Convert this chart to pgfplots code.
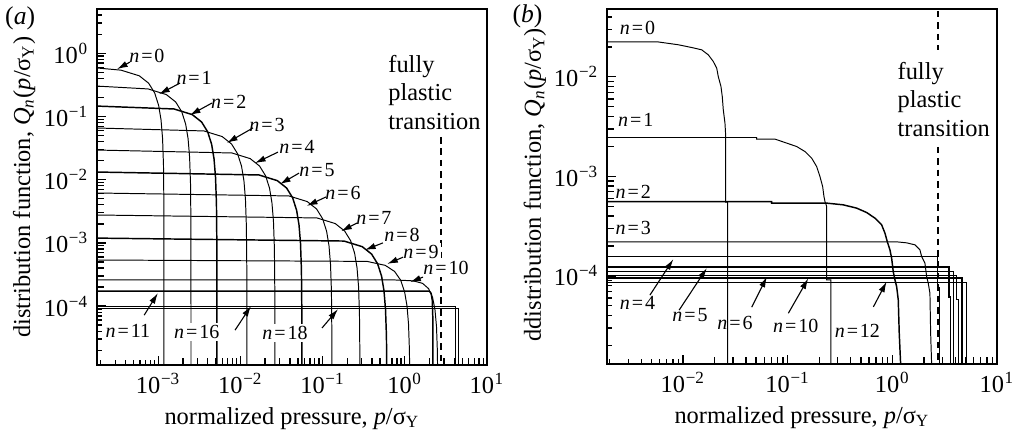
\documentclass[border=0pt]{standalone}
\usepackage{fontspec}
\setmainfont{Liberation Serif}
\usepackage{pgfplots}
\pgfplotsset{compat=1.18}
\usetikzlibrary{arrows.meta}
\newcommand{\nv}[1]{\textit{n}\kern0.8pt=\kern0.8pt#1}
\newcommand{\tn}[1]{10\textsuperscript{\kern0.3pt#1}}
\tikzset{
  nlab/.style={font=\fontsize{8.2}{9}\selectfont, inner sep=0.8pt},
  arr/.style={-{Latex[length=4.4pt,width=2.6pt]}, line width=0.45pt},
  fpt/.style={anchor=north west, align=left, inner sep=0pt, font=\fontsize{10}{11.6}\selectfont},
}
\begin{document}
\begin{tikzpicture}[x=1pt,y=1pt]
% ---------------- panel (a)
\begin{axis}[
  xmode=log, ymode=log,
  scale only axis,
  width=159.9pt, height=145.96pt,
  at={(39.77pt,28.29pt)}, anchor=south west,
  axis line style={line width=0.7pt},
  tick align=inside,
  xtick pos=left, ytick pos=left,
  major tick length=3.8pt,
  every tick/.append style={line width=0.55pt, black},
  clip mode=individual,
  tick label style={font=\fontsize{10}{12}\selectfont},
  label style={font=\fontsize{10}{12}\selectfont},
  xlabel style={at={(axis description cs:0.5,-0.15)},anchor=center},
  ylabel style={at={(axis description cs:-0.187,0.5)},anchor=center},
  xmin=1.8e-4, xmax=10, ymin=1.17e-5, ymax=5,
  xtick={1e-3,1e-2,1e-1,1,10},
  xticklabels={\tn{−3},\tn{−2},\tn{−1},\tn{0},\tn{1}},
  minor xtick={},
  extra x ticks={2e-4,3e-4,4e-4,5e-4,6e-4,7e-4,8e-4,9e-4,2e-3,3e-3,4e-3,5e-3,6e-3,7e-3,8e-3,9e-3,0.02,0.03,0.04,0.05,0.06,0.07,0.08,0.09,0.2,0.3,0.4,0.5,0.6,0.7,0.8,0.9,2,3,4,5,6,7,8,9},
  extra x tick labels={},
  extra x tick style={major tick length=2.2pt},
  ytick={1e-4,1e-3,1e-2,1e-1,1},
  yticklabels={\tn{−4},\tn{−3},\tn{−2},\tn{−1},\tn{0}},
  minor ytick={},
  extra y ticks={2e-5,3e-5,4e-5,5e-5,6e-5,7e-5,8e-5,9e-5,2e-4,3e-4,4e-4,5e-4,6e-4,7e-4,8e-4,9e-4,2e-3,3e-3,4e-3,5e-3,6e-3,7e-3,8e-3,9e-3,0.02,0.03,0.04,0.05,0.06,0.07,0.08,0.09,0.2,0.3,0.4,0.5,0.6,0.7,0.8,0.9,2,3,4},
  extra y tick labels={},
  extra y tick style={major tick length=2.2pt},
  xlabel={normalized pressure, \textit{p}/σ\textsubscript{Y}},
  ylabel={distribution function, \textit{Q}\textsubscript{\textit{n}}(\textit{p}/σ\textsubscript{Y})},
  cycle list={{black,solid,line width=0.6pt}},
]
\addplot coordinates {(1.8e-4,0.584) (3.531e-4,0.5391) (5.885e-4,0.4392) (7.651e-4,0.3353) (9.063e-4,0.2348) (1.0122e-3,0.1495) (1.0828e-3,0.0879) (1.130e-3,0.04476) (1.1593e-3,0.01698) (1.1735e-3,3.414e-3) (1.177e-3,1e-7)};
\addplot coordinates {(1.8e-4,0.302) (7.53e-4,0.2722) (1.255e-3,0.2218) (1.6315e-3,0.1693) (1.9327e-3,0.1186) (2.1586e-3,0.0755) (2.3092e-3,0.04439) (2.4096e-3,0.0226) (2.4724e-3,8.575e-3) (2.5025e-3,1.724e-3) (2.51e-3,1e-7)};
\addplot coordinates {(1.8e-4,0.1458) (1.557e-3,0.1312) (2.595e-3,0.1069) (3.3735e-3,0.0816) (3.9963e-3,0.05714) (4.4634e-3,0.03638) (4.7748e-3,0.02139) (4.9824e-3,0.01089) (5.1122e-3,4.132e-3) (5.1744e-3,8.31e-4) (5.19e-3,1e-7)};
\addplot coordinates {(1.8e-4,0.0656) (3.6e-3,0.05894) (6.0e-3,0.04802) (7.8e-3,0.03666) (9.24e-3,0.02568) (0.01032,0.01635) (0.01104,9.61e-3) (0.01152,4.894e-3) (0.01182,1.856e-3) (0.011964,3.733e-4) (0.012,1e-7)};
\addplot coordinates {(1.8e-4,0.0294) (7.89e-3,0.02642) (0.01315,0.02152) (0.017095,0.01643) (0.020251,0.011507) (0.022618,7.326e-3) (0.024196,4.307e-3) (0.025248,2.193e-3) (0.025906,8.32e-4) (0.026221,1.673e-4) (0.0263,1e-7)};
\addplot coordinates {(1.8e-4,0.0132) (0.01683,0.01186) (0.02805,9.662e-3) (0.036465,7.377e-3) (0.043197,5.166e-3) (0.048246,3.289e-3) (0.051612,1.934e-3) (0.053856,9.85e-4) (0.055259,3.736e-4) (0.055932,7.51e-5) (0.0561,1e-7)};
\addplot coordinates {(1.8e-4,6.15e-3) (0.039,5.526e-3) (0.065,4.502e-3) (0.0845,3.437e-3) (0.1001,2.407e-3) (0.1118,1.533e-3) (0.1196,9.01e-4) (0.1248,4.588e-4) (0.12805,1.74e-4) (0.12961,3.5e-5) (0.130,1e-7)};
\addplot coordinates {(1.8e-4,2.76e-3) (0.0855,2.48e-3) (0.1425,2.02e-3) (0.18525,1.5426e-3) (0.21945,1.0803e-3) (0.2451,6.878e-4) (0.2622,4.043e-4) (0.2736,2.059e-4) (0.280725,7.81e-5) (0.284145,1.57e-5) (0.285,1e-7)};
\addplot coordinates {(1.8e-4,1.19e-3) (0.1821,1.0692e-3) (0.3035,8.711e-4) (0.39455,6.651e-4) (0.46739,4.658e-4) (0.52202,2.965e-4) (0.55844,1.743e-4) (0.58272,8.88e-5) (0.597895,3.368e-5) (0.605179,6.77e-6) (0.607,1e-7)};
\addplot coordinates {(1.8e-4,5.36e-4) (0.3468,5.097e-4) (0.578,4.411e-4) (0.7514,3.532e-4) (0.89012,2.573e-4) (0.99416,1.683e-4) (1.06352,1.008e-4) (1.10976,5.2e-5) (1.13866,1.983e-5) (1.152532,4.02e-6) (1.156,1e-7)};
\addplot coordinates {(1.8e-4,2.59e-4) (0.759,2.59e-4) (1.265,2.51e-4) (1.6445,2.29e-4) (1.9481,1.888e-4) (2.1758,1.373e-4) (2.3276,8.83e-5) (2.4288,4.79e-5) (2.49205,1.89e-5) (2.52241,3.9e-6) (2.53,1e-7)};
\addplot coordinates {(1.8e-4,1.73e-4) (1.98,1.73e-4) (2.09,1.6e-4) (2.156,1.25e-4) (2.189,7e-5) (2.2,2e-5) (2.2,1e-7)};
\addplot coordinates {(1.8e-4,1.0e-4) (4.08,1.0e-4) (4.08,1e-7)};
\addplot coordinates {(1.8e-4,9.33e-5) (4.44,9.33e-5) (4.44,1e-7)};
\addplot[black, line width=0.6pt, dash pattern=on 2.7pt off 2pt] coordinates {(2.757,0.0473) (2.757,1e-7)};
% labels
\node[fpt] at (rel axis cs:0.746,0.871) {fully\\plastic\\transition};
\node[nlab,fill=white] at (rel axis cs:0.128,0.868) {\nv{0}};
\node[nlab,fill=white] at (rel axis cs:0.249,0.806) {\nv{1}};
\node[nlab,fill=white] at (rel axis cs:0.338,0.739) {\nv{2}};
\node[nlab,fill=white] at (rel axis cs:0.436,0.674) {\nv{3}};
\node[nlab,fill=white] at (rel axis cs:0.513,0.612) {\nv{4}};
\node[nlab,fill=white] at (rel axis cs:0.564,0.548) {\nv{5}};
\node[nlab,fill=white] at (rel axis cs:0.631,0.483) {\nv{6}};
\node[nlab,fill=white] at (rel axis cs:0.710,0.413) {\nv{7}};
\node[nlab,fill=white] at (rel axis cs:0.782,0.365) {\nv{8}};
\node[nlab,fill=white] at (rel axis cs:0.831,0.317) {\nv{9}};
\node[nlab,fill=white] at (rel axis cs:0.895,0.272) {\nv{10}};
\node[nlab,fill=white] at (rel axis cs:0.079,0.096) {\nv{11}};
\node[nlab,fill=white] at (rel axis cs:0.256,0.093) {\nv{16}};
\node[nlab,fill=white] at (rel axis cs:0.482,0.090) {\nv{18}};
\draw[arr] (rel axis cs:0.0846,0.851) -- (rel axis cs:0.0513,0.831);
\draw[arr] (rel axis cs:0.213,0.792) -- (rel axis cs:0.159,0.761);
\draw[arr] (rel axis cs:0.295,0.736) -- (rel axis cs:0.238,0.702);
\draw[arr] (rel axis cs:0.400,0.666) -- (rel axis cs:0.333,0.624);
\draw[arr] (rel axis cs:0.464,0.598) -- (rel axis cs:0.405,0.567);
\draw[arr] (rel axis cs:0.518,0.539) -- (rel axis cs:0.469,0.508);
\draw[arr] (rel axis cs:0.587,0.472) -- (rel axis cs:0.538,0.447);
\draw[arr] (rel axis cs:0.667,0.399) -- (rel axis cs:0.626,0.376);
\draw[arr] (rel axis cs:0.733,0.343) -- (rel axis cs:0.687,0.323);
\draw[arr] (rel axis cs:0.785,0.303) -- (rel axis cs:0.744,0.284);
\draw[arr] (rel axis cs:0.836,0.247) -- (rel axis cs:0.803,0.233);
\draw[arr] (rel axis cs:0.121,0.140) -- (rel axis cs:0.156,0.202);
\draw[arr] (rel axis cs:0.354,0.098) -- (rel axis cs:0.395,0.166);
\draw[arr] (rel axis cs:0.577,0.104) -- (rel axis cs:0.618,0.157);
\node[font=\fontsize{10.5}{12}\selectfont] at (rel axis cs:-0.197,0.975) {(\textit{a})};
\end{axis}
% ---------------- panel (b)
\begin{axis}[
  xmode=log, ymode=log,
  scale only axis,
  width=159.9pt, height=145.55pt,
  at={(248.87pt,28.7pt)}, anchor=south west,
  axis line style={line width=0.7pt},
  tick align=inside,
  xtick pos=left, ytick pos=left,
  major tick length=3.8pt,
  every tick/.append style={line width=0.55pt, black},
  clip mode=individual,
  tick label style={font=\fontsize{10}{12}\selectfont},
  label style={font=\fontsize{10}{12}\selectfont},
  xlabel style={at={(axis description cs:0.5,-0.15)},anchor=center},
  ylabel style={at={(axis description cs:-0.185,0.505)},anchor=center},
  xmin=1.88e-3, xmax=10, ymin=1.3e-5, ymax=0.048,
  xtick={1e-2,1e-1,1,10},
  xticklabels={\tn{−2},\tn{−1},\tn{0},\tn{1}},
  minor xtick={},
  extra x ticks={2e-3,3e-3,4e-3,5e-3,6e-3,7e-3,8e-3,9e-3,0.02,0.03,0.04,0.05,0.06,0.07,0.08,0.09,0.2,0.3,0.4,0.5,0.6,0.7,0.8,0.9,2,3,4,5,6,7,8,9},
  extra x tick labels={},
  extra x tick style={major tick length=2.2pt},
  ytick={1e-4,1e-3,1e-2},
  yticklabels={\tn{−4},\tn{−3},\tn{−2}},
  minor ytick={},
  extra y ticks={2e-5,3e-5,4e-5,5e-5,6e-5,7e-5,8e-5,9e-5,2e-4,3e-4,4e-4,5e-4,6e-4,7e-4,8e-4,9e-4,2e-3,3e-3,4e-3,5e-3,6e-3,7e-3,8e-3,9e-3,0.02,0.03,0.04},
  extra y tick labels={},
  extra y tick style={major tick length=2.2pt},
  xlabel={normalized pressure, \textit{p}/σ\textsubscript{Y}},
  ylabel={ddistribution function, \textit{Q}\textsubscript{\textit{n}}(\textit{p}/σ\textsubscript{Y})},
  cycle list={{black,solid,line width=0.6pt}},
]
\addplot coordinates {(1.88e-3,0.0225) (5.8e-3,0.0224) (9.0e-3,0.0210) (0.0121,0.0197) (0.0151,0.01867) (0.01745,0.01663) (0.01948,0.01425) (0.0210,0.01223) (0.02173,0.01007) (0.02306,7.99e-3) (0.02373,6.33e-3) (0.02427,4.66e-3) (0.02518,3.43e-3) (0.0255,2.72e-3) (0.0255,5.5e-4) (0.0267,5.5e-4) (0.0267,1e-7)};
\addplot coordinates {(1.88e-3,2.455e-3) (0.0506,2.455e-3) (0.0506,2.366e-3) (0.0757,2.366e-3) (0.0978,2.157e-3) (0.1219,1.993e-3) (0.1463,1.775e-3) (0.1695,1.524e-3) (0.1892,1.254e-3) (0.2034,9.95e-4) (0.2159,7.9e-4) (0.2222,6.27e-4) (0.2271,5.58e-4) (0.2358,5.0e-4) (0.2358,9.1e-5) (0.2593,9.1e-5) (0.2593,1e-7)};
\addplot coordinates {(1.88e-3,5.58e-4) (0.0704,5.58e-4) (0.0704,5.38e-4) (0.2358,5.38e-4) (0.3396,5.17e-4) (0.456,4.79e-4) (0.568,4.33e-4) (0.682,3.80e-4) (0.790,3.256e-4) (0.850,2.686e-4) (0.894,2.211e-4) (0.9486,1.825e-4) (0.9847,1.506e-4) (1.020,1.104e-4) (1.059,9.12e-5) (1.099,7.81e-5) (1.139,5.74e-5) (1.164,2.65e-5) (1.20,1.3e-5) (1.20,1e-7)};
\addplot coordinates {(1.88e-3,2.196e-4) (1.099,2.196e-4) (1.370,2.146e-4) (1.644,2.049e-4) (1.835,1.825e-4) (1.905,1.563e-4) (2.048,1.341e-4) (2.127,9.84e-5) (2.203,8.44e-5) (2.286,6.70e-5) (2.322,2.67e-5) (2.373,1.3e-5) (2.373,1e-7)};
\addplot coordinates {(1.88e-3,1.552e-4) (2.727,1.552e-4) (2.727,7.57e-5) (2.849,7.57e-5) (2.849,1e-7)};
\addplot coordinates {(1.88e-3,1.232e-4) (3.472,1.232e-4) (3.472,6.15e-5) (3.605,6.15e-5) (3.605,1e-7)};
\addplot coordinates {(1.88e-3,1.097e-4) (3.875,1.097e-4) (3.875,1e-7)};
\addplot coordinates {(1.88e-3,1.0e-4) (4.14,1.0e-4) (4.14,5.74e-5) (4.3,5.74e-5) (4.3,1e-7)};
\addplot coordinates {(1.88e-3,9.55e-5) (4.62,9.55e-5) (4.62,1e-7)};
\addplot coordinates {(1.88e-3,8.51e-5) (5.16,8.51e-5) (5.16,1e-7)};
\addplot[black, line width=0.6pt, dash pattern=on 2.7pt off 2pt] coordinates {(2.72,0.06) (2.72,0.0187)};
\addplot[black, line width=0.6pt, dash pattern=on 2.7pt off 2pt] coordinates {(2.72,1.98e-3) (2.72,1e-7)};
\node[fpt] at (rel axis cs:0.744,0.851) {fully\\plastic\\transition};
\node[nlab] at (rel axis cs:0.078,0.948) {\nv{0}};
\node[nlab] at (rel axis cs:0.0736,0.687) {\nv{1}};
\node[nlab] at (rel axis cs:0.0675,0.485) {\nv{2}};
\node[nlab] at (rel axis cs:0.0675,0.382) {\nv{3}};
\node[nlab] at (rel axis cs:0.078,0.171) {\nv{4}};
\node[nlab] at (rel axis cs:0.213,0.138) {\nv{5}};
\node[nlab] at (rel axis cs:0.328,0.115) {\nv{6}};
\node[nlab] at (rel axis cs:0.484,0.108) {\nv{10}};
\node[nlab] at (rel axis cs:0.642,0.094) {\nv{12}};
\draw[arr] (rel axis cs:0.110,0.194) -- (rel axis cs:0.170,0.295);
\draw[arr] (rel axis cs:0.185,0.152) -- (rel axis cs:0.256,0.270);
\draw[arr] (rel axis cs:0.371,0.160) -- (rel axis cs:0.410,0.246);
\draw[arr] (rel axis cs:0.465,0.143) -- (rel axis cs:0.516,0.241);
\draw[arr] (rel axis cs:0.683,0.161) -- (rel axis cs:0.717,0.232);
\node[font=\fontsize{10.5}{12}\selectfont] at (rel axis cs:-0.204,0.978) {(\textit{b})};
\end{axis}
\pgfresetboundingbox
\path (0,0) rectangle (417.79pt,177.94pt);
\end{tikzpicture}
\end{document}
